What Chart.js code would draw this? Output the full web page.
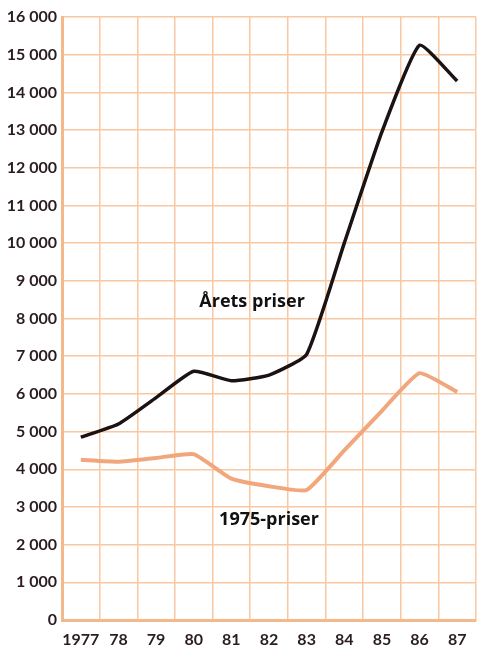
<!DOCTYPE html>
<html>
<head>
<meta charset="utf-8">
<script src="https://cdn.jsdelivr.net/npm/chart.js@4.4.1/dist/chart.umd.min.js"></script>
<style>
  html, body { margin:0; padding:0; background:#fff; }
  #wrap { width:477px; height:647px; position:relative; }
</style>
</head>
<body>
<div id="wrap"><canvas id="prisChart" width="477" height="647"></canvas></div>
<script>
  // år på x-aksen
  const years = ['1977','78','79','80','81','82','83','84','85','86','87'];
  // løpende priser og faste 1975-priser
  const aretsPriser = [4850, 5200, 5900, 6600, 6350, 6500, 7050, 10000, 12950, 15250, 14300];
  const priser1975  = [4250, 4200, 4300, 4400, 3750, 3550, 3450, 4500, 5550, 6550, 6050];
  const yTicks = { min: 0, max: 16000, step: 1000 };

  // tekst på linjene: [tekst, kategori-indeks, verdi]
  const lineLabels = [
    ['Årets priser', 4.55, 8430],
    ['1975-priser', 5.0, 2650]
  ];

  const gridColor = '#f9c8a2';
  const axisColor = '#f3b98a';
  const txtColor = '#2a1c22';
  const font = 'Lato, "Open Sans", sans-serif';

  const labelPlugin = {
    id: 'lineLabels',
    afterDatasetsDraw(chart){
      const ctx = chart.ctx, xs = chart.scales.x, ys = chart.scales.y;
      ctx.save();
      ctx.fillStyle = '#111';
      ctx.font = 'bold 18px "Open Sans", sans-serif';
      ctx.textAlign = 'center';
      ctx.textBaseline = 'middle';
      lineLabels.forEach(function(l){
        ctx.fillText(l[0], xs.getPixelForValue(l[1]), ys.getPixelForValue(l[2]));
      });
      ctx.restore();
    }
  };

  new Chart(document.getElementById('prisChart'), {
    type: 'line',
    data: {
      labels: years,
      datasets: [
        { label: 'Årets priser', data: aretsPriser, borderColor: '#1c1214', borderWidth: 3.5,
          pointRadius: 0, tension: 0.15, fill: false },
        { label: '1975-priser', data: priser1975, borderColor: '#f2a67c', borderWidth: 4,
          pointRadius: 0, tension: 0.15, fill: false }
      ]
    },
    options: {
      responsive: false,
      animation: false,
      layout: { padding: { top: 17, right: 1, left: 0, bottom: 0 } },
      plugins: { legend: { display: false }, tooltip: { enabled: false } },
      scales: {
        x: {
          offset: true,
          grid: { offset: true, color: gridColor, lineWidth: 1.5, drawTicks: false },
          border: { color: axisColor, width: 3 },
          ticks: { color: txtColor, font: { family: font, size: 16, weight: 'bold' }, padding: 10, maxRotation: 0, autoSkip: false },
          afterFit: function(s){ s.height = 27; }
        },
        y: {
          min: yTicks.min, max: yTicks.max,
          grid: { color: gridColor, lineWidth: 1.5, drawTicks: false },
          border: { color: axisColor, width: 3 },
          ticks: {
            stepSize: yTicks.step, color: txtColor, padding: 5,
            font: { family: font, size: 16, weight: 'bold' },
            callback: function(v){ return v === 0 ? '0' : Math.floor(v/1000) + ' 000'; }
          },
          afterFit: function(s){ s.width = 62; }
        }
      }
    },
    plugins: [labelPlugin]
  });
</script>
</body>
</html>
